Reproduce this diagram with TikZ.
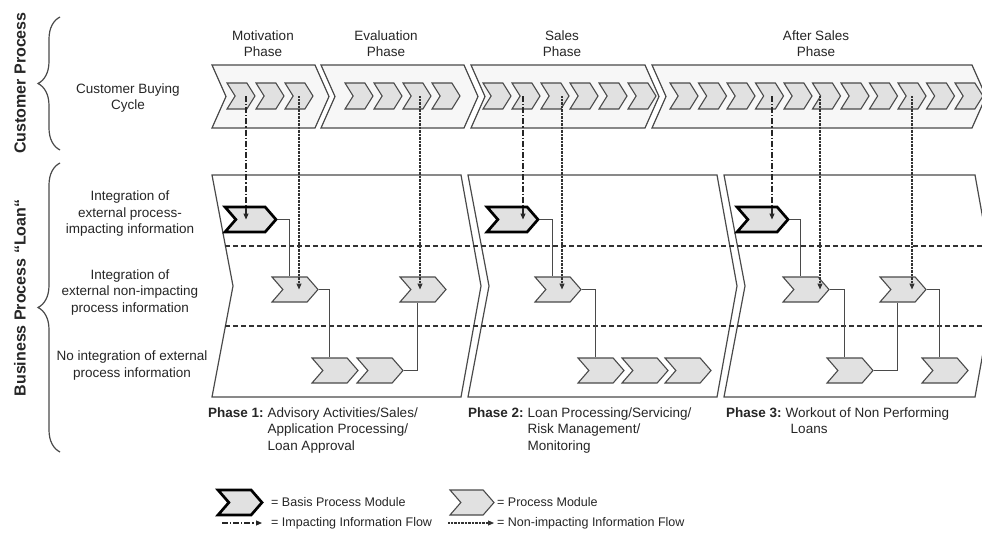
\documentclass[tikz,border=0pt]{standalone}
\usepackage{fontspec}
\setmainfont{Liberation Sans}
\usepackage{tikz}
\usetikzlibrary{arrows.meta, shapes.symbols, decorations.pathreplacing}

\definecolor{ink}{HTML}{4A4A4A}
\definecolor{modfill}{HTML}{E1E1E1}
\definecolor{bandfill}{HTML}{F7F7F7}

\tikzset{
  mod/.style={signal, signal to=east, signal from=west, signal pointer angle=98,
    draw=ink, fill=modfill, line width=1.1pt, minimum height=25, minimum width=46, inner sep=0pt},
  basismod/.style={mod, draw=black, line width=2.7pt, minimum width=51},
  cycmod/.style={mod, minimum height=26, minimum width=28, signal pointer angle=116},
  link/.style={draw=ink, line width=1.1pt},
  impact/.style={black!85, line width=1.1pt, dash pattern=on 6pt off 2pt on 1.2pt off 2pt,
    -{Triangle[length=6pt,width=5pt]}},
  nonimpact/.style={black!80, line width=1.1pt, dash pattern=on 0.8pt off 0.6pt,
    -{Triangle[length=6pt,width=5pt]}},
  rowline/.style={black!80, line width=1.4pt, dash pattern=on 5pt off 3pt},
  frame/.style={draw=ink, line width=1.2pt},
  lbl/.style={font=\fontsize{13.5}{16.5}\selectfont, align=center, text=black!85},
  desc/.style={font=\fontsize{13.5}{16.5}\selectfont, inner sep=0pt, text=black!85},
  lgnd/.style={font=\fontsize{12.5}{15}\selectfont, inner sep=0pt, anchor=west, text=black!85},
  side/.style={font=\fontsize{16}{18}\selectfont\bfseries, rotate=90, text=black!85},
  brc/.style={draw=ink, line width=1.2pt, decorate, decoration={brace, amplitude=22pt}},
}

\begin{document}
\begin{tikzpicture}[x=1pt, y=-1pt]
	\useasboundingbox (0,0) rectangle (982,543);
	\fill[white] (0,0) rectangle (982,543);
	
	% Side braces and their titles
	\draw[brc] (60,150) -- (60,17);
	\draw[brc] (60,452) -- (60,163);
	\node[side] (custproc) at (20,83) {Customer Process};
	\node[side] (busproc) at (20,298) {Business Process “Loan“};
	
	% Row titles
	\node[lbl] (cycle) at (128,98) {Customer Buying\\Cycle};
	\node[lbl] (rowimp) at (130,214) {Integration of\\external process-\\impacting information};
	\node[lbl] (rownon) at (130,292.5) {Integration of\\external non-impacting\\process information};
	\node[lbl] (rowno) at (132,365.5) {No integration of external\\process information};
	
	% Phase titles above the buying cycle
	\node[lbl] (tmot) at (263,43.5) {Motivation\\Phase};
	\node[lbl] (teval) at (386,43.5) {Evaluation\\Phase};
	\node[lbl] (tsales) at (562,43.5) {Sales\\Phase};
	\node[lbl] (tafter) at (816,43.5) {After Sales\\Phase};
	
	% Buying cycle band
	\foreach \xl/\xr in {212/315, 321/464, 471/645, 652/972}
		\draw[frame, fill=bandfill] (\xl,65) -- (\xr,65) -- (\xr+14,96.5) -- (\xr,128)
			-- (\xl,128) -- (\xl+14,96.5) -- cycle;
	\foreach \i in {1,...,3} \node[cycmod] (m\i) at (212+29*\i,96) {};
	\foreach \i in {1,...,4} \node[cycmod] (e\i) at (330+29*\i,96) {};
	\foreach \i in {1,...,6} \node[cycmod] (s\i) at (468+29*\i,96) {};
	\foreach \i in {1,...,11} \node[cycmod] (a\i) at (655.5+28.5*\i,96) {};
	
	% Business process panels
	\foreach \xl/\xr in {212/461, 468/717, 724/975}
		\draw[frame, fill=white] (\xl,175) -- (\xr,175) -- (\xr+20,286) -- (\xr,397)
			-- (\xl,397) -- (\xl+21,286) -- cycle;
	\draw[rowline] (225,246) -- (982,246);
	\draw[rowline] (225,326) -- (982,326);
	
	% Phase 1
	\node[basismod] (b1) at (250.5,219.5) {};
	\node[mod] (p1) at (295,289.5) {};
	\node[mod] (p2) at (423,289.5) {};
	\node[mod] (q1) at (335,370.5) {};
	\node[mod] (q2) at (380,370.5) {};
	\draw[link] (b1.east) -| ([xshift=-5.5]p1.north);
	\draw[link] (p1.east) -| ([xshift=-5.5]q1.north);
	\draw[link] (q2.east) -| ([xshift=-5.5]p2.south);
	
	% Phase 2
	\node[basismod] (b2) at (512.5,219.5) {};
	\node[mod] (p3) at (558,289.5) {};
	\node[mod] (q3) at (601,370.5) {};
	\node[mod] (q4) at (645,370.5) {};
	\node[mod] (q5) at (688,370.5) {};
	\draw[link] (b2.east) -| ([xshift=-5.5]p3.north);
	\draw[link] (p3.east) -| ([xshift=-5.5]q3.north);
	
	% Phase 3
	\node[basismod] (b3) at (762.5,219.5) {};
	\node[mod] (p4) at (806,289.5) {};
	\node[mod] (p5) at (903,289.5) {};
	\node[mod] (q6) at (850,370.5) {};
	\node[mod] (q7) at (945,370.5) {};
	\draw[link] (b3.east) -| ([xshift=-5.5]p4.north);
	\draw[link] (p4.east) -| ([xshift=-5.5]q6.north);
	\draw[link] (q6.east) -| ([xshift=-5.5]p5.south);
	\draw[link] (p5.east) -| ([xshift=-5.5]q7.north);
	
	% Information flows from the buying cycle
	\foreach \src/\dx/\dst in {m1/5/b1, s2/-3/b2, a4/2.5/b3}
		\draw[impact] ([xshift=\dx]\src.center) -- ([xshift=\dx]\src.center |- \dst.center);
	\foreach \src/\dx/\dst in {m3/0/p1, e3/3/p2, s3/7/p3, a6/-6.5/p4, a9/0/p5}
		\draw[nonimpact] ([xshift=\dx]\src.center) -- ([xshift=\dx]\src.center |- \dst.center);
	
	% Phase descriptions
	\node[desc, anchor=base west] (ph1) at (208,417) {\begin{tabular}[t]{@{}l@{\hspace{4pt}}l@{}}
		\textbf{Phase 1:} & Advisory Activities/Sales/\\ & Application Processing/\\ & Loan Approval\end{tabular}};
	\node[desc, anchor=base west] (ph2) at (468,417) {\begin{tabular}[t]{@{}l@{\hspace{4pt}}l@{}}
		\textbf{Phase 2:} & Loan Processing/Servicing/\\ & Risk Management/\\ & Monitoring\end{tabular}};
	\node[desc, anchor=base west] (ph3) at (726,417) {\begin{tabular}[t]{@{}l@{\hspace{4pt}}l@{}}
		\textbf{Phase 3:} & Workout of Non Performing\\ & \hspace*{5pt}Loans\end{tabular}};
	
	% Legend
	\node[basismod, minimum width=44] (lgb) at (240,502.5) {};
	\node[lgnd] (lgbt) at (271,502.5) {= Basis Process Module};
	\node[mod, minimum width=44] (lgp) at (472,502.5) {};
	\node[lgnd] (lgpt) at (497,502.5) {= Process Module};
	\coordinate (li1) at (222,523);
	\coordinate (li2) at (262,523);
	\draw[impact] (li1) -- (li2);
	\node[lgnd] (lgit) at (271,523) {= Impacting Information Flow};
	\coordinate (ln1) at (448,523);
	\coordinate (ln2) at (494,523);
	\draw[nonimpact] (ln1) -- (ln2);
	\node[lgnd] (lgnt) at (497,523) {= Non-impacting Information Flow};
	
\end{tikzpicture}
\end{document}
